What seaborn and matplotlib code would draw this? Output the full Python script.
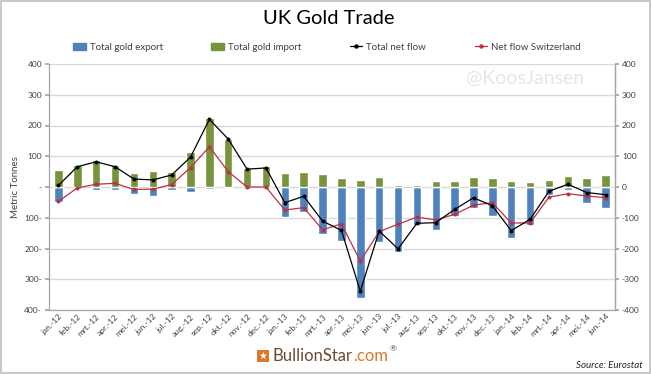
import matplotlib
matplotlib.use("Agg")
import matplotlib.pyplot as plt
import seaborn as sns
import pandas as pd
from matplotlib.patches import Rectangle
from matplotlib.lines import Line2D
from matplotlib.ticker import FixedLocator, FuncFormatter

months = ["jan.-12", "feb.-12", "mrt.-12", "apr.-12", "mei.-12", "jun.-12",
          "jul.-12", "aug.-12", "sep.-12", "okt.-12", "nov.-12", "dec.-12",
          "jan.-13", "feb.-13", "mrt.-13", "apr.-13", "mei.-13", "jun.-13",
          "jul.-13", "aug.-13", "sep.-13", "okt.-13", "nov.-13", "dec.-13",
          "jan.-14", "feb.-14", "mrt.-14", "apr.-14", "mei.-14", "jun.-14"]
gold_import = [55, 70, 89, 73, 47, 52, 48, 113, 226, 157, 62, 68,
               45, 48, 41, 30, 23, 31, 7, 5, 20, 21, 31, 30,
               21, 17, 24, 35, 30, 40]
gold_export = [-50, -5, -10, -10, -22, -30, -10, -17, -6, -3, -6, -8,
               -96, -80, -152, -174, -361, -179, -212, -125, -139, -95, -67, -95,
               -165, -125, -27, -11, -51, -67]
net_flow = [5, 66, 82, 66, 26, 23, 39, 97, 220, 156, 58, 62,
            -51, -30, -111, -141, -339, -143, -201, -118, -116, -73, -35, -61,
            -142, -105, -14, 9, -18, -25]
net_swiss = [-47, -3, 9, 12, -8, -7, 8, 63, 131, 50, 0, 0,
             -75, -67, -139, -120, -241, -145, -121, -98, -107, -89, -59, -51,
             -117, -117, -33, -22, -29, -35]
y_ticks = [400, 300, 200, 100, 0, -100, -200, -300, -400]

df = pd.DataFrame({"month": months, "import": gold_import, "export": gold_export,
                   "net": net_flow, "swiss": net_swiss})

sns.set_theme(style="white")
plt.rcParams["font.family"] = ["Lato", "DejaVu Sans"]

BLUE = "#4F81BD"
GREEN = "#77933C"
RED = "#BE3040"
GRID = "#D9D9D9"
AXC = "#A6A6A6"

fig = plt.figure(figsize=(6.51, 3.74), dpi=100)
ax = fig.add_axes([49 / 651, 1 - 310 / 374, (615 - 49) / 651, (310 - 64) / 374])

sns.barplot(data=df, x="month", y="export", color=BLUE, width=0.45,
            saturation=1, ax=ax, zorder=2)
sns.barplot(data=df, x="month", y="import", color=GREEN, width=0.45,
            saturation=1, ax=ax, zorder=2)
sns.pointplot(data=df, x="month", y="net", color="black", markers="o",
              markersize=2.2, linewidth=0.9, ax=ax, zorder=4)
sns.pointplot(data=df, x="month", y="swiss", color=RED, markers="o",
              markersize=2.2, linewidth=0.9, ax=ax, zorder=3)

ax.set_xlim(-0.5, len(months) - 0.5)
ax.set_ylim(-400, 400)
ax.yaxis.set_major_locator(FixedLocator(y_ticks))

def left_fmt(v, pos):
    v = int(round(v))
    if v == 0:
        return "-"
    if v < 0:
        return f"{abs(v)}-"
    return f"{v}"

ax.yaxis.set_major_formatter(FuncFormatter(left_fmt))
ax.grid(axis="y", color=GRID, linewidth=1.0, zorder=0)
ax.set_axisbelow(True)
ax.set_xlabel("")
ax.set_ylabel("Metric Tonnes", fontsize=7, color="#404040", labelpad=3)
ax.tick_params(axis="y", labelsize=6, colors="#404040", length=3, color=AXC, pad=2)
ax.tick_params(axis="x", labelsize=6, colors="#404040", length=0, pad=2)
for lab in ax.get_xticklabels():
    lab.set_rotation(45)
    lab.set_ha("right")
    lab.set_rotation_mode("anchor")
ax.spines["top"].set_visible(False)
for s in ["left", "bottom", "right"]:
    ax.spines[s].set_color(AXC)
    ax.spines[s].set_linewidth(0.9)

ax2 = ax.twinx()
ax2.set_ylim(-400, 400)
ax2.yaxis.set_major_locator(FixedLocator(y_ticks))
ax2.yaxis.set_major_formatter(FuncFormatter(lambda v, p: f"{int(round(v))}"))
ax2.tick_params(axis="y", labelsize=6, colors="#404040", length=3, color=AXC, pad=2)
ax2.grid(False)
for s in ["top", "left", "bottom"]:
    ax2.spines[s].set_visible(False)
ax2.spines["right"].set_color(AXC)
ax2.spines["right"].set_linewidth(0.9)

# Title, legend, annotations
fig.text(329 / 651, 1 - 19 / 374, "UK Gold Trade", ha="center", va="center",
         fontsize=14.5, color="black")

handles = [
    Rectangle((0, 0), 1, 1, color=BLUE),
    Rectangle((0, 0), 1, 1, color=GREEN),
    Line2D([0], [0], color="black", marker="o", markersize=2.2, linewidth=0.9),
    Line2D([0], [0], color=RED, marker="o", markersize=2.2, linewidth=0.9),
]
labels = ["Total gold export", "Total gold import", "Total net flow", "Net flow Switzerland"]
fig.legend(handles, labels, loc="center", bbox_to_anchor=(327 / 651, 1 - 47 / 374),
           ncol=4, frameon=False, fontsize=7, handlelength=1.3, handleheight=0.7,
           handletextpad=0.4, columnspacing=5.0, labelcolor="#404040")

fig.text(525 / 651, 1 - 78 / 374, "@KoosJansen", ha="center", va="center",
         fontsize=14, color="#E6E6E6")

# BullionStar logo
fig.patches.append(Rectangle((257 / 651, 1 - 362 / 374), 12 / 651, 12 / 374,
                             transform=fig.transFigure, facecolor="#D9782D",
                             edgecolor="none"))
fig.text(263 / 651, 1 - 356 / 374, "\u2605", ha="center", va="center",
         fontsize=7, color="white", family=["DejaVu Sans"])
t1 = fig.text(273 / 651, 1 - 356 / 374, "BullionStar", ha="left", va="center",
              fontsize=12, color="#6B4A33")
fig.canvas.draw()
bb = t1.get_window_extent()
x_end = bb.x1 / fig.bbox.width
t2 = fig.text(x_end, 1 - 356 / 374, ".com", ha="left", va="center",
              fontsize=12, color="#D9782D")
fig.canvas.draw()
bb2 = t2.get_window_extent()
fig.text(bb2.x1 / fig.bbox.width + 0.002, 1 - 349 / 374, "\u00ae", ha="left",
         va="center", fontsize=6, color="#6B4A33")

fig.text(643 / 651, 1 - 366 / 374, "Source: Eurostat", ha="right", va="center",
         fontsize=7, style="italic", color="#262626")

# outer frame
fig.patches.append(Rectangle((0.001, 0.002), 0.997, 0.995, transform=fig.transFigure,
                             facecolor="none", edgecolor="#BFBFBF", linewidth=1.2))

fig.savefig("out.png", dpi=100)
